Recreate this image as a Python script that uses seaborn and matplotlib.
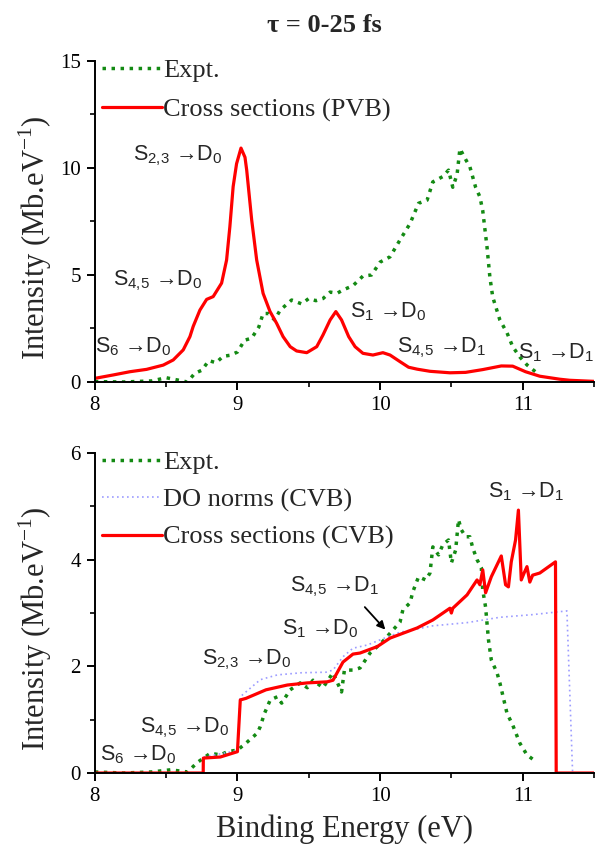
import numpy as np
import pandas as pd
import matplotlib
matplotlib.use('Agg')
import matplotlib.pyplot as plt
import seaborn as sns
from matplotlib.ticker import MultipleLocator

sns.set_style('ticks')
plt.rcParams['font.family'] = ['Liberation Serif', 'DejaVu Serif']
plt.rcParams['mathtext.fontset'] = 'custom'
plt.rcParams['mathtext.rm'] = 'Liberation Serif'
plt.rcParams['mathtext.sf'] = 'Liberation Sans'

# top panel: PVB cross sections vs experiment
pvb_x = [8.0, 8.13, 8.246, 8.363, 8.48, 8.55, 8.62, 8.667, 8.69, 8.737, 8.784, 8.83,
         8.889, 8.924, 8.947, 8.97, 8.994, 9.025, 9.053, 9.065, 9.1, 9.135, 9.18,
         9.228, 9.275, 9.32, 9.37, 9.415, 9.486, 9.556, 9.6, 9.65, 9.69, 9.73, 9.78,
         9.825, 9.88, 9.95, 10.02, 10.07, 10.14, 10.2, 10.26, 10.35, 10.49, 10.6,
         10.72, 10.85, 10.93, 11.02, 11.12, 11.26, 11.33, 11.5]
pvb_y = [0.17, 0.33, 0.48, 0.59, 0.79, 1.03, 1.5, 2.12, 2.6, 3.36, 3.86, 3.99,
         4.62, 5.7, 7.26, 9.13, 10.2, 10.93, 10.5, 9.9, 7.57, 5.7, 4.14,
         3.3, 2.74, 2.12, 1.65, 1.45, 1.37, 1.65, 2.2, 2.9, 3.29, 2.9, 2.12,
         1.65, 1.34, 1.26, 1.37, 1.26, 0.95, 0.69, 0.6, 0.5, 0.43, 0.45,
         0.58, 0.75, 0.74, 0.48, 0.27, 0.13, 0.08, 0.03]

expt_top_x = [8.0, 8.2, 8.4, 8.5, 8.65, 8.7, 8.75, 8.8, 8.85, 8.9, 8.95, 9.0, 9.05, 9.1,
              9.15, 9.18, 9.22, 9.26, 9.3, 9.38, 9.45, 9.5, 9.55, 9.6, 9.65, 9.7, 9.74,
              9.81, 9.88, 9.94, 10.0, 10.07, 10.14, 10.21, 10.27, 10.33, 10.37, 10.44,
              10.48, 10.51, 10.54, 10.56, 10.6, 10.63, 10.67, 10.7, 10.72, 10.75, 10.77,
              10.79, 10.84, 10.89, 10.93, 10.98, 11.03, 11.1]
expt_top_y = [0.02, 0.0, 0.05, 0.2, 0.0, 0.4, 0.55, 1.0, 0.9, 1.2, 1.25, 1.4, 1.95, 2.05,
              2.57, 3.2, 3.2, 2.9, 3.36, 3.83, 3.65, 3.9, 3.8, 3.9, 4.2, 4.15, 4.3,
              4.5, 4.95, 5.0, 5.6, 5.85, 6.64, 7.4, 8.35, 8.5, 9.35, 9.6,
              9.9, 9.1, 9.7, 10.9, 10.4, 10.05, 9.1, 8.65, 8.0, 6.3, 4.9,
              3.97, 2.9, 2.3, 1.65, 1.17, 0.8, 0.42]

# bottom panel: CVB cross sections, DO norms, experiment
cvb_x = [8.0, 8.76, 8.761, 8.88, 9.0, 9.02, 9.06, 9.2, 9.35, 9.49, 9.63, 9.67, 9.74,
         9.81, 9.86, 9.98, 10.07, 10.26, 10.37, 10.49, 10.5, 10.51, 10.61, 10.68,
         10.7, 10.72, 10.74, 10.78, 10.85, 10.88, 10.9, 10.92, 10.95, 10.97, 10.99,
         11.01, 11.03, 11.05, 11.07, 11.12, 11.23, 11.235, 11.5]
cvb_y = [0.0, 0.0, 0.28, 0.3, 0.4, 1.37, 1.4, 1.56, 1.65, 1.69, 1.71, 1.74, 2.08,
         2.23, 2.25, 2.37, 2.53, 2.72, 2.87, 3.09, 3.0, 3.09, 3.34, 3.62,
         3.53, 3.81, 3.38, 3.68, 4.07, 3.53, 3.49, 3.96, 4.37, 4.93, 3.62,
         3.75, 3.87, 3.58, 3.71, 3.75, 3.96, 0.0, 0.0]

do_x = [8.0, 8.76, 8.761, 9.0, 9.02, 9.16, 9.28, 9.45, 9.62, 9.67, 9.74, 9.81, 9.91,
        10.05, 10.14, 10.37, 10.61, 10.84, 11.07, 11.31, 11.35, 11.5]
do_y = [0.0, 0.0, 0.3, 0.42, 1.43, 1.75, 1.84, 1.88, 1.89, 1.93, 2.18, 2.34, 2.4,
        2.55, 2.64, 2.76, 2.82, 2.92, 2.97, 3.04, 0.0, 0.0]

expt_bot_x = [8.0, 8.2, 8.4, 8.53, 8.65, 8.72, 8.81, 8.88, 8.93, 9.0, 9.06, 9.14, 9.16,
              9.19, 9.23, 9.28, 9.31, 9.37, 9.44, 9.49, 9.53, 9.6, 9.67, 9.73, 9.75,
              9.81, 9.86, 9.93, 9.98, 10.02, 10.09, 10.14, 10.16, 10.21, 10.23, 10.27,
              10.32, 10.35, 10.37, 10.41, 10.44, 10.48, 10.5, 10.53, 10.55, 10.57, 10.6,
              10.63, 10.65, 10.68, 10.71, 10.72, 10.74, 10.76, 10.78, 10.82, 10.84,
              10.89, 10.93, 10.98, 11.03, 11.1]
expt_bot_y = [0.02, 0.0, 0.02, 0.06, 0.02, 0.2, 0.37, 0.34, 0.4, 0.43, 0.56, 0.75, 0.87,
              1.12, 1.37, 1.43, 1.31, 1.56, 1.69, 1.6, 1.74, 1.6, 1.88, 1.52, 1.93,
              1.93, 1.97, 2.25, 2.37, 2.47, 2.68, 2.83, 3.06, 3.19, 3.4, 3.68,
              3.62, 3.75, 4.24, 4.09, 4.28, 4.37, 3.94, 4.18, 4.75, 4.56, 4.43,
              4.43, 4.22, 4.0, 3.85, 3.43, 3.11, 2.5, 2.12, 1.88, 1.69,
              1.12, 0.9, 0.56, 0.34, 0.2]

xticks = [8, 9, 10, 11]
green = '#138a13'
red = '#ff0000'
blue = '#9c9cff'

fig = plt.figure(figsize=(6.0, 8.59), dpi=100)
ax1 = fig.add_axes([0.158, 0.5553, 0.832, 0.3737])
ax2 = fig.add_axes([0.158, 0.1001, 0.832, 0.3725])

dot = (0, (1.0, 1.6))
sns.lineplot(x=expt_top_x, y=expt_top_y, ax=ax1, color=green, lw=2.5, ls=dot,
             estimator=None, sort=False, label='Expt.')
sns.lineplot(x=pvb_x, y=pvb_y, ax=ax1, color=red, lw=2.3,
             estimator=None, sort=False, label='Cross sections (PVB)')

sns.lineplot(x=expt_bot_x, y=expt_bot_y, ax=ax2, color=green, lw=2.5, ls=dot,
             estimator=None, sort=False, label='Expt.')
sns.lineplot(x=do_x, y=do_y, ax=ax2, color=blue, lw=1.2, ls=(0, (1, 2)),
             estimator=None, sort=False, label='DO norms (CVB)')
sns.lineplot(x=cvb_x, y=cvb_y, ax=ax2, color=red, lw=2.3,
             estimator=None, sort=False, label='Cross sections (CVB)')

for ax, ymax, ymaj, lsp in [(ax1, 15, 5, 0.6), (ax2, 6, 2, 0.52)]:
    ax.set_xlim(8, 11.5)
    ax.set_ylim(0, ymax)
    ax.set_xticks(xticks)
    ax.xaxis.set_minor_locator(MultipleLocator(0.5))
    ax.yaxis.set_major_locator(MultipleLocator(ymaj))
    ax.yaxis.set_minor_locator(MultipleLocator(ymaj / 2))
    for s in ['top', 'right']:
        ax.spines[s].set_visible(False)
    for s in ['left', 'bottom']:
        ax.spines[s].set_linewidth(1.4)
        ax.spines[s].set_color('black')
    ax.tick_params(which='major', direction='out', length=6, width=1.4,
                   labelsize=15, pad=4, colors='black')
    ax.tick_params(which='minor', direction='out', length=3.5, width=1.4)
    ax.set_ylabel('Intensity (Mb.eV$^{-1}$)', fontsize=22)
    ax.yaxis.set_label_coords(-0.082, 0.45)
    ax.set_xlabel('')
    ax.legend(loc='upper left', frameon=False, fontsize=19, handlelength=2.25,
              handletextpad=0.05, labelspacing=lsp, borderaxespad=0.0,
              bbox_to_anchor=(-0.006, 1.04))

ax2.set_xlabel('Binding Energy (eV)', fontsize=22, labelpad=6)
fig.text(0.54, 0.970, 'τ = 0-25 fs', fontsize=19, fontweight='bold',
         ha='center', va='center')

sans = dict(family=['Liberation Sans', 'DejaVu Sans'], fontsize=15.5, va='baseline')
top_labels = [(8.27, 10.37, r'S$_\mathsf{2{,}3}$ →D$_\mathsf{0}$'),
              (8.13, 4.53, r'S$_\mathsf{4{,}5}$ →D$_\mathsf{0}$'),
              (8.0, 1.36, r'S$_\mathsf{6}$ →D$_\mathsf{0}$'),
              (9.79, 3.0, r'S$_\mathsf{1}$ →D$_\mathsf{0}$'),
              (10.12, 1.36, r'S$_\mathsf{4{,}5}$ →D$_\mathsf{1}$'),
              (10.97, 1.12, r'S$_\mathsf{1}$ →D$_\mathsf{1}$')]
for x, y, t in top_labels:
    ax1.text(x, y, t, clip_on=False, **sans)

bot_labels = [(8.035, 0.24, r'S$_\mathsf{6}$ →D$_\mathsf{0}$'),
              (8.32, 0.77, r'S$_\mathsf{4{,}5}$ →D$_\mathsf{0}$'),
              (8.75, 2.04, r'S$_\mathsf{2{,}3}$ →D$_\mathsf{0}$'),
              (9.31, 2.59, r'S$_\mathsf{1}$ →D$_\mathsf{0}$'),
              (9.37, 3.4, r'S$_\mathsf{4{,}5}$ →D$_\mathsf{1}$'),
              (10.76, 5.16, r'S$_\mathsf{1}$ →D$_\mathsf{1}$')]
for x, y, t in bot_labels:
    ax2.text(x, y, t, clip_on=False, **sans)

ax2.annotate('', xy=(10.05, 2.65), xytext=(9.88, 3.15),
             arrowprops=dict(arrowstyle='-|>', color='black', lw=1.3,
                             mutation_scale=12))

fig.savefig('out.png', dpi=100)
